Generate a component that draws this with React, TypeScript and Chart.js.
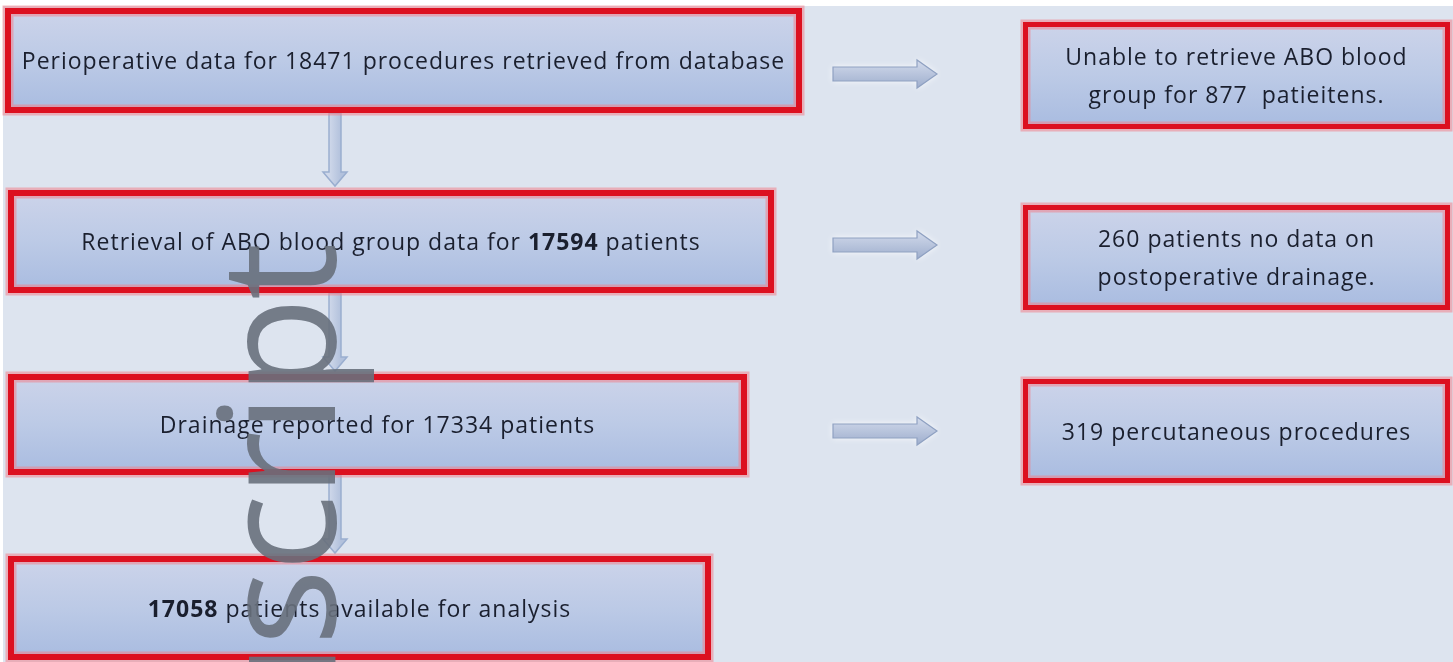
import React, { useEffect, useRef } from "react";
import { Chart, registerables } from "chart.js";

Chart.register(...registerables);

// ---- flowchart content ----
const leftLabels: string[][] = [
  ["Perioperative data for 18471 procedures retrieved from database"],
  ["Retrieval of ABO blood group data for **17594** patients"],
  ["Drainage reported for 17334 patients"],
  ["**17058** patients available for analysis"],
];
const rightLabels: string[][] = [
  ["Unable to retrieve ABO blood", "group for 877  patieitens."],
  ["260 patients no data on", "postoperative drainage."],
  ["319 percutaneous procedures"],
];
// node extents in chart units (x: 0..1453, y: 0..662 top-down)
const leftBoxX: number[][] = [[5, 802], [8, 774], [8, 747], [8, 711]];
const leftBoxY: number[][] = [[8, 113], [190, 293], [374, 475], [556, 660]];
const rightBoxX: number[][] = [[1023, 1450], [1023, 1450], [1023, 1450]];
const rightBoxY: number[][] = [[22, 129], [205, 310], [379, 483]];
const rightArrowX: number[] = [833, 937];
const rightArrowY: number[] = [74, 245, 431];
const downArrowX: number = 335;
const downArrowY: number[][] = [[113, 186], [293, 371], [475, 553]];
const watermarkText = "uscript";

const FONT = '"Open Sans", "Noto Sans", sans-serif';

function drawRich(ctx: CanvasRenderingContext2D, line: string, cx: number, cy: number, size: number) {
  const parts = line.split("**");
  const segs = parts.map((t, i) => ({ t, bold: i % 2 === 1 })).filter((s) => s.t.length);
  (ctx as any).letterSpacing = "1px";
  let total = 0;
  for (const s of segs) {
    ctx.font = `${s.bold ? 700 : 500} ${size}px ${FONT}`;
    total += ctx.measureText(s.t).width;
  }
  let x = cx - total / 2;
  ctx.textBaseline = "middle";
  ctx.textAlign = "left";
  for (const s of segs) {
    ctx.font = `${s.bold ? 700 : 500} ${size}px ${FONT}`;
    ctx.fillText(s.t, x, cy);
    x += ctx.measureText(s.t).width;
  }
  (ctx as any).letterSpacing = "0px";
}

const flowPlugin = {
  id: "flow",
  beforeDraw(chart: any) {
    const ctx = chart.ctx as CanvasRenderingContext2D;
    ctx.save();
    ctx.fillStyle = "#ffffff";
    ctx.fillRect(0, 0, chart.width, chart.height);
    ctx.fillStyle = "#dde4ef";
    ctx.fillRect(3, 6, chart.width - 3, chart.height - 6);
    ctx.restore();
  },
  afterDatasetsDraw(chart: any) {
    const ctx = chart.ctx as CanvasRenderingContext2D;
    const xs = chart.scales.x;
    const ys = chart.scales.y;
    const px = (v: number) => xs.getPixelForValue(v);
    const py = (v: number) => ys.getPixelForValue(v);
    ctx.save();

    // down arrows
    for (const [a, b] of downArrowY) {
      const cx = px(downArrowX);
      const y0 = py(a), y1 = py(b);
      const sw = 6, hw = 12, hl = 14;
      ctx.beginPath();
      ctx.moveTo(cx - sw, y0);
      ctx.lineTo(cx + sw, y0);
      ctx.lineTo(cx + sw, y1 - hl);
      ctx.lineTo(cx + hw, y1 - hl);
      ctx.lineTo(cx, y1);
      ctx.lineTo(cx - hw, y1 - hl);
      ctx.lineTo(cx - sw, y1 - hl);
      ctx.closePath();
      const g = ctx.createLinearGradient(cx - sw, 0, cx + sw, 0);
      g.addColorStop(0, "#cfd8ea");
      g.addColorStop(1, "#b2c1dc");
      ctx.fillStyle = g;
      ctx.fill();
      ctx.strokeStyle = "#9aaed0";
      ctx.lineWidth = 1.5;
      ctx.stroke();
    }

    // right arrows
    for (const yv of rightArrowY) {
      const x0 = px(rightArrowX[0]), x1 = px(rightArrowX[1]);
      const cy = py(yv);
      const sh = 7, hh = 14, hl = 20;
      ctx.beginPath();
      ctx.moveTo(x0, cy - sh);
      ctx.lineTo(x1 - hl, cy - sh);
      ctx.lineTo(x1 - hl, cy - hh);
      ctx.lineTo(x1, cy);
      ctx.lineTo(x1 - hl, cy + hh);
      ctx.lineTo(x1 - hl, cy + sh);
      ctx.lineTo(x0, cy + sh);
      ctx.closePath();
      ctx.shadowColor = "rgba(255,255,255,0.9)";
      ctx.shadowBlur = 6;
      const g = ctx.createLinearGradient(0, cy - hh, 0, cy + hh);
      g.addColorStop(0, "#d3dbec");
      g.addColorStop(1, "#9eaecd");
      ctx.fillStyle = g;
      ctx.fill();
      ctx.shadowBlur = 0;
      ctx.strokeStyle = "#8fa1c2";
      ctx.lineWidth = 1.2;
      ctx.stroke();
    }

    const drawBox = (bx: number[], by: number[], lines: string[], bw: number) => {
      const x0 = px(bx[0]), x1 = px(bx[1]), y0 = py(by[0]), y1 = py(by[1]);
      const g = ctx.createLinearGradient(0, y0, 0, y1);
      g.addColorStop(0, "#cdd4ea");
      g.addColorStop(0.5, "#bccae6");
      g.addColorStop(1, "#a8bbe0");
      ctx.fillStyle = g;
      ctx.fillRect(x0, y0, x1 - x0, y1 - y0);
      ctx.strokeStyle = "rgba(240,130,140,0.55)";
      ctx.lineWidth = bw + 5;
      ctx.strokeRect(x0 + bw / 2, y0 + bw / 2, x1 - x0 - bw, y1 - y0 - bw);
      ctx.strokeStyle = "#dc1020";
      ctx.lineWidth = bw;
      ctx.strokeRect(x0 + bw / 2, y0 + bw / 2, x1 - x0 - bw, y1 - y0 - bw);
      ctx.fillStyle = "#1a1f2e";
      const cx = (x0 + x1) / 2;
      const cy = (y0 + y1) / 2 + 2;
      const lh = 38;
      lines.forEach((ln, i) => {
        drawRich(ctx, ln, cx, cy + (i - (lines.length - 1) / 2) * lh, 23);
      });
    };

    leftLabels.forEach((l, i) => drawBox(leftBoxX[i], leftBoxY[i], l, 6));
    rightLabels.forEach((l, i) => drawBox(rightBoxX[i], rightBoxY[i], l, 5));

    // watermark
    ctx.save();
    const size = 162;
    ctx.font = `500 ${size}px ${FONT}`;
    (ctx as any).letterSpacing = "-3px";
    const uW = ctx.measureText("u").width;
    ctx.translate(px(335), py(646) + uW);
    ctx.rotate(-Math.PI / 2);
    ctx.textAlign = "left";
    ctx.textBaseline = "alphabetic";
    ctx.fillStyle = "rgba(104,112,124,0.9)";
    ctx.fillText(watermarkText, 0, 0);
    (ctx as any).letterSpacing = "0px";
    ctx.restore();

    ctx.restore();
  },
};

export default function App() {
  const ref = useRef<HTMLCanvasElement>(null);
  useEffect(() => {
    document.body.style.margin = "0";
    const canvas = ref.current!;
    const points = leftBoxX.map((bx, i) => ({ x: (bx[0] + bx[1]) / 2, y: (leftBoxY[i][0] + leftBoxY[i][1]) / 2 }))
      .concat(rightBoxX.map((bx, i) => ({ x: (bx[0] + bx[1]) / 2, y: (rightBoxY[i][0] + rightBoxY[i][1]) / 2 })));
    const chart = new Chart(canvas, {
      type: "scatter",
      data: {
        datasets: [{ label: "nodes", data: points, pointRadius: 0, pointHoverRadius: 0 }],
      },
      options: {
        animation: false,
        responsive: false,
        maintainAspectRatio: false,
        layout: { padding: 0 },
        events: [],
        plugins: { legend: { display: false }, tooltip: { enabled: false } },
        scales: {
          x: { type: "linear", min: 0, max: 1453, display: false },
          y: { type: "linear", min: 0, max: 662, reverse: true, display: false },
        },
      },
      plugins: [flowPlugin],
    });
    return () => chart.destroy();
  }, []);
  return <canvas ref={ref} width={1453} height={662} style={{ display: "block" }} />;
}
